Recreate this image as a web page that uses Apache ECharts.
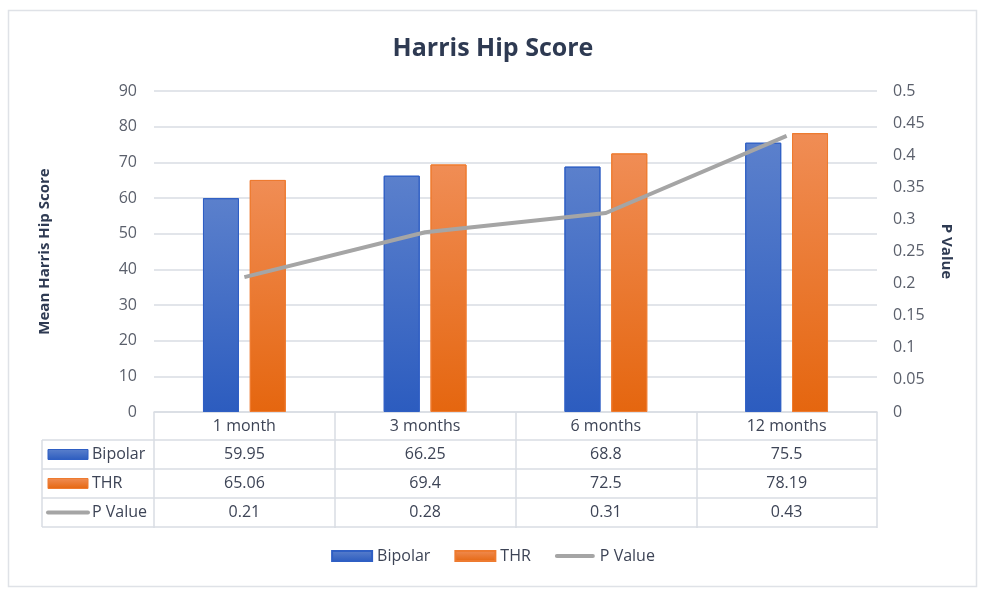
<!DOCTYPE html>
<html><head><meta charset="utf-8">
<script src="https://cdn.jsdelivr.net/npm/echarts@6/dist/echarts.min.js"></script>
<style>html,body{margin:0;padding:0;background:#fff}#c{width:986px;height:597px}</style>
</head><body><div id="c"></div>
<script>
const categories = ['1 month', '3 months', '6 months', '12 months'];
const bipolar = [59.95, 66.25, 68.8, 75.5];
const thr = [65.06, 69.4, 72.5, 78.19];
const pValue = [0.21, 0.28, 0.31, 0.43];
const seriesNames = ['Bipolar', 'THR', 'P Value'];

const FONT = '"Open Sans", "Noto Sans", sans-serif';
const TXT = '#3d4456';
const GRID = '#d9dde3';
const chart = echarts.init(document.getElementById('c'));

const blueGrad = new echarts.graphic.LinearGradient(0,0,0,1,[{offset:0,color:'#5b80cc'},{offset:1,color:'#2c5cbf'}]);
const orangeGrad = new echarts.graphic.LinearGradient(0,0,0,1,[{offset:0,color:'#f08d55'},{offset:1,color:'#e5660f'}]);

chart.setOption({
  animation: false,
  textStyle: {fontFamily: FONT},
  title: {text: 'Harris Hip Score', left: 'center', top: 31,
    textStyle: {fontSize: 25, fontWeight: 'bold', color: '#2e3a52', fontFamily: FONT}},
  grid: {left: 154, right: 109, top: 91, bottom: 185},
  legend: {bottom: 28, left: 'center', itemWidth: 40, itemHeight: 10, itemGap: 24, symbolKeepAspect: true,
    textStyle: {fontSize: 16, color: TXT, fontFamily: FONT},
    data: [{name: seriesNames[0], icon: 'rect'}, {name: seriesNames[1], icon: 'rect'},
      {name: seriesNames[2], icon: 'path://M2,0 L38,0 A2,2 0 0 1 38,4 L2,4 A2,2 0 0 1 2,0 Z', itemStyle: {color: '#a5a5a5'}}]},
  xAxis: {type: 'category', data: categories,
    axisLine: {show: true, lineStyle: {color: GRID, width: 1.5}},
    axisTick: {show: true, length: 116, lineStyle: {color: GRID, width: 1.5}},
    axisLabel: {margin: 6, fontSize: 16, color: TXT}},
  yAxis: [
    {type: 'value', min: 0, max: 90, interval: 10, name: 'Mean Harris Hip Score', nameLocation: 'middle', nameGap: 102,
      nameTextStyle: {fontSize: 15, fontWeight: 'bold', color: '#2e3a52'},
      axisLabel: {fontSize: 16, color: '#5a5f6b', margin: 17},
      axisLine: {show: false}, axisTick: {show: false},
      splitLine: {lineStyle: {color: GRID, width: 1.5}}},
    {type: 'value', min: 0, max: 0.5, interval: 0.05, name: 'P Value', nameLocation: 'middle', nameGap: 62, nameRotate: -90,
      nameTextStyle: {fontSize: 15, fontWeight: 'bold', color: '#2e3a52'},
      axisLabel: {fontSize: 16, color: '#5a5f6b', margin: 16, formatter: v => String(+v.toFixed(2))},
      axisLine: {show: false}, axisTick: {show: false}, splitLine: {show: false}}
  ],
  series: [
    {name: seriesNames[0], type: 'bar', data: bipolar, barWidth: 36, barGap: '30%',
      itemStyle: {color: blueGrad, borderColor: '#2f5fc4', borderWidth: 1}},
    {name: seriesNames[1], type: 'bar', data: thr, barWidth: 36,
      itemStyle: {color: orangeGrad, borderColor: '#ee7b30', borderWidth: 1}},
    {name: seriesNames[2], type: 'line', yAxisIndex: 1, data: pValue, symbol: 'none',
      lineStyle: {color: '#a5a5a5', width: 4}, itemStyle: {color: '#a5a5a5'}}
  ]
});

// data table below the axis, built from the same arrays
const x0 = chart.convertToPixel({xAxisIndex: 0}, 0);
const x1 = chart.convertToPixel({xAxisIndex: 0}, 1);
const step = x1 - x0;
const leftEdge = x0 - step / 2;
const rightEdge = leftEdge + step * categories.length;
const axisY = chart.convertToPixel({yAxisIndex: 0}, 0);
const rowH = 29;
const tableLeft = 42;
const rows = [
  {name: seriesNames[0], vals: bipolar, key: 'bar', color: blueGrad, border: '#2f5fc4'},
  {name: seriesNames[1], vals: thr, key: 'bar', color: orangeGrad, border: '#ee7b30'},
  {name: seriesNames[2], vals: pValue, key: 'line', color: '#a5a5a5'}
];
const els = [];
const lineStyle = {stroke: GRID, lineWidth: 1.5};
for (let r = 0; r <= rows.length; r++) {
  const y = axisY + 28 + r * rowH;
  els.push({type: 'line', shape: {x1: tableLeft, y1: y, x2: rightEdge, y2: y}, style: lineStyle});
}
els.push({type: 'line', shape: {x1: tableLeft, y1: axisY + 28, x2: tableLeft, y2: axisY + 28 + rows.length * rowH}, style: lineStyle});
rows.forEach((row, r) => {
  const cy = axisY + 28 + r * rowH + rowH / 2;
  if (row.key === 'bar') {
    els.push({type: 'rect', shape: {x: 48, y: cy - 5, width: 40, height: 10}, style: {fill: row.color, stroke: row.border, lineWidth: 1}});
  } else {
    els.push({type: 'line', shape: {x1: 48, y1: cy, x2: 88, y2: cy}, style: {stroke: row.color, lineWidth: 4, lineCap: 'round'}});
  }
  els.push({type: 'text', x: 92, y: cy, style: {text: row.name, fontSize: 16, fill: TXT, fontFamily: FONT, verticalAlign: 'middle', textAlign: 'left'}});
  row.vals.forEach((v, i) => {
    const cx = chart.convertToPixel({xAxisIndex: 0}, i);
    els.push({type: 'text', x: cx, y: cy, style: {text: String(v), fontSize: 16, fill: TXT, fontFamily: FONT, verticalAlign: 'middle', textAlign: 'center'}});
  });
});
els.push({type: 'rect', shape: {x: 8.5, y: 10.5, width: 968, height: 576}, style: {fill: 'none', stroke: '#dfe2e7', lineWidth: 1.5}, silent: true});
chart.setOption({graphic: els});
</script></body></html>
